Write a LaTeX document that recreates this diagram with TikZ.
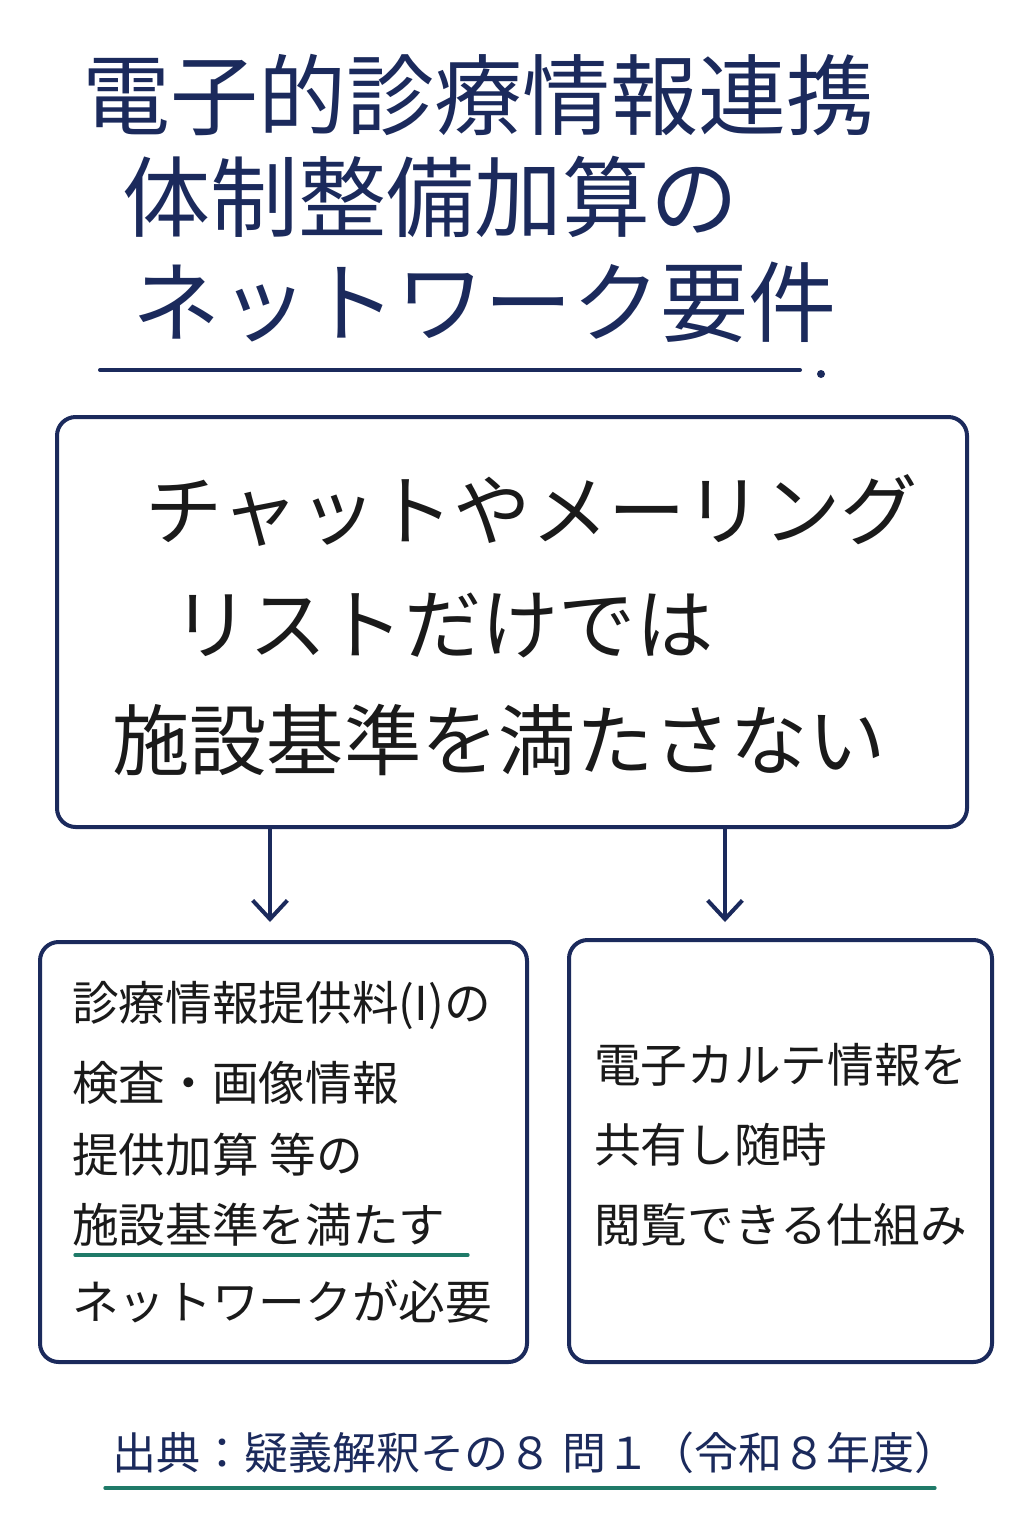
\documentclass[tikz,border=0pt]{standalone}
\usepackage{fontspec}
\usetikzlibrary{arrows.meta}
\newfontfamily\cjk{Noto Sans CJK JP}
\definecolor{navy}{HTML}{1B2A5C}
\definecolor{ink}{HTML}{1A1A1A}
\definecolor{teal}{HTML}{1F7A68}
\begin{document}
\begin{tikzpicture}[x=0.75pt,y=-0.75pt,
  box/.style={draw=navy,line width=3pt,rounded corners=14pt},
  title/.style={anchor=west,inner sep=0,text=navy,font=\cjk\fontsize{66}{66}\selectfont},
  big/.style={anchor=west,inner sep=0,text=ink,font=\cjk\fontsize{58}{58}\selectfont},
  mid/.style={anchor=west,inner sep=0,text=ink,font=\cjk\fontsize{35}{35}\selectfont},
  arr/.style={draw=navy,line width=3pt,-{Straight Barb[length=14pt,width=26pt]}}]
\useasboundingbox (0,0) rectangle (1024,1536);
\fill[white] (0,0) rectangle (1024,1536);
\node[title] (t1) at (82,95) {電子的診療情報連携};
\node[title] (t2) at (122,197) {体制整備加算の};
\node[title] (t3) at (132,302) {ネットワーク要件};
\coordinate (u1) at (100,370); \coordinate (u2) at (800,370);
\draw[navy,line width=3pt,line cap=round] (u1) -- (u2);
\fill[navy] (821,374) circle (4);
\node[box,minimum width=910*0.75pt,minimum height=410*0.75pt,anchor=north west] (main) at (55,415) {};
\node[big] (m1) at (145,510) {チャットやメーリング};
\node[big] (m2) at (172,625) {リストだけでは};
\node[big] (m3) at (112,740) {施設基準を満たさない};
\node[box,minimum width=487*0.75pt,minimum height=420*0.75pt,anchor=north west] (lb) at (38,940) {};
\node[box,minimum width=423*0.75pt,minimum height=422*0.75pt,anchor=north west] (rb) at (567,938) {};
\coordinate (a1) at (270,825); \coordinate (b1) at (270,922);
\coordinate (a2) at (725,825); \coordinate (b2) at (725,922);
\draw[arr] (a1) -- (b1);
\draw[arr] (a2) -- (b2);
\node[mid] (l1) at (72,1005) {診療情報提供料(I)の};
\node[mid] (l2) at (72,1083) {検査・画像情報};
\node[mid] (l3) at (72,1155) {提供加算 等の};
\node[mid] (l4) at (72,1225) {施設基準を満たす};
\node[mid] (l5) at (72,1302) {ネットワークが必要};
\coordinate (g1) at (75,1255); \coordinate (g2) at (468,1255);
\draw[teal,line width=2.5pt,line cap=round] (g1) -- (g2);
\node[mid] (r1) at (594,1065) {電子カルテ情報を};
\node[mid] (r2) at (594,1145) {共有し随時};
\node[mid] (r3) at (594,1225) {閲覧できる仕組み};
\node[anchor=west,inner sep=0,text=navy,font=\cjk\fontsize{33}{33}\selectfont] (src) at (112,1453) {出典：疑義解釈その８\ 問１（令和８年度）};
\coordinate (s1) at (105,1488); \coordinate (s2) at (935,1488);
\draw[teal,line width=2.5pt,line cap=round] (s1) -- (s2);
\end{tikzpicture}
\end{document}
